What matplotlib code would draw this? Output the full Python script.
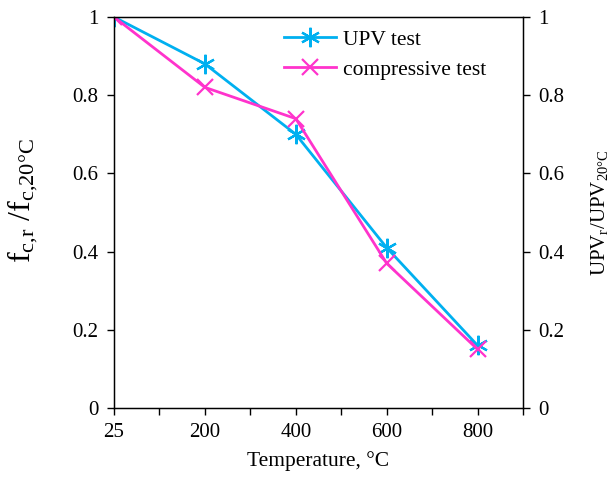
import matplotlib
matplotlib.use("Agg")
import matplotlib.pyplot as plt

temps = ["25", "200", "400", "600", "800"]
upv = [1.0, 0.88, 0.70, 0.41, 0.16]
compressive = [1.0, 0.82, 0.74, 0.37, 0.15]
yticks = [0, 0.2, 0.4, 0.6, 0.8, 1]
ytick_labels = ["0", "0.2", "0.4", "0.6", "0.8", "1"]

plt.rcParams['font.family'] = ['Liberation Serif', 'DejaVu Serif']
plt.rcParams['mathtext.fontset'] = 'custom'
plt.rcParams['mathtext.rm'] = 'Liberation Serif'
plt.rcParams['mathtext.it'] = 'Liberation Serif:italic'

fig = plt.figure(figsize=(6.14, 4.8), dpi=100)
ax = fig.add_axes([0.1857, 0.15, 0.6661, 0.8146])

x = list(range(len(temps)))
ax.plot(x, upv, color='#00B0F0', linewidth=2, marker=(6, 2, 0), markersize=14,
        markeredgewidth=1.6, label='UPV test')
ax.plot(x, compressive, color='#FF33CC', linewidth=2, marker='x', markersize=12,
        markeredgewidth=1.6, label='compressive test')

ax.set_xlim(0, 4.5)
ax.set_ylim(0, 1)
ax.set_xticks(x)
ax.set_xticklabels(temps)
ax.set_xticks([0.5, 1.5, 2.5, 3.5, 4.5], minor=True)
ax.set_yticks(yticks)
ax.set_yticklabels(ytick_labels)
ax.tick_params(axis='both', which='both', direction='out', labelsize=15, width=1, length=5)
ax.tick_params(axis='x', which='minor', length=5)
ax.tick_params(axis='x', pad=6)
ax.tick_params(axis='y', pad=6)
for s in ax.spines.values():
    s.set_linewidth(1)

ax.set_xlabel('Temperature, °C', fontsize=15.5, labelpad=6)
ax.set_ylabel(r'$\mathrm{f_{c{,}r}\ /f_{c{,}20°C}}$', fontsize=23)
ax.yaxis.set_label_coords(-0.18, 0.53)

ax2 = ax.twinx()
ax2.set_ylim(0, 1)
ax2.set_yticks(yticks)
ax2.set_yticklabels(ytick_labels)
ax2.tick_params(axis='y', direction='out', labelsize=15, width=1, length=5, pad=6)
ax2.set_ylabel(r'$\mathrm{UPV_{r}/UPV_{20°C}}$', fontsize=15, labelpad=18)

ax.legend(loc='upper left', bbox_to_anchor=(0.385, 1.0), frameon=False, fontsize=15.5,
          handlelength=2.4, handletextpad=0.3, labelspacing=0.45, borderaxespad=0.2)

plt.savefig('out.png', dpi=100)
